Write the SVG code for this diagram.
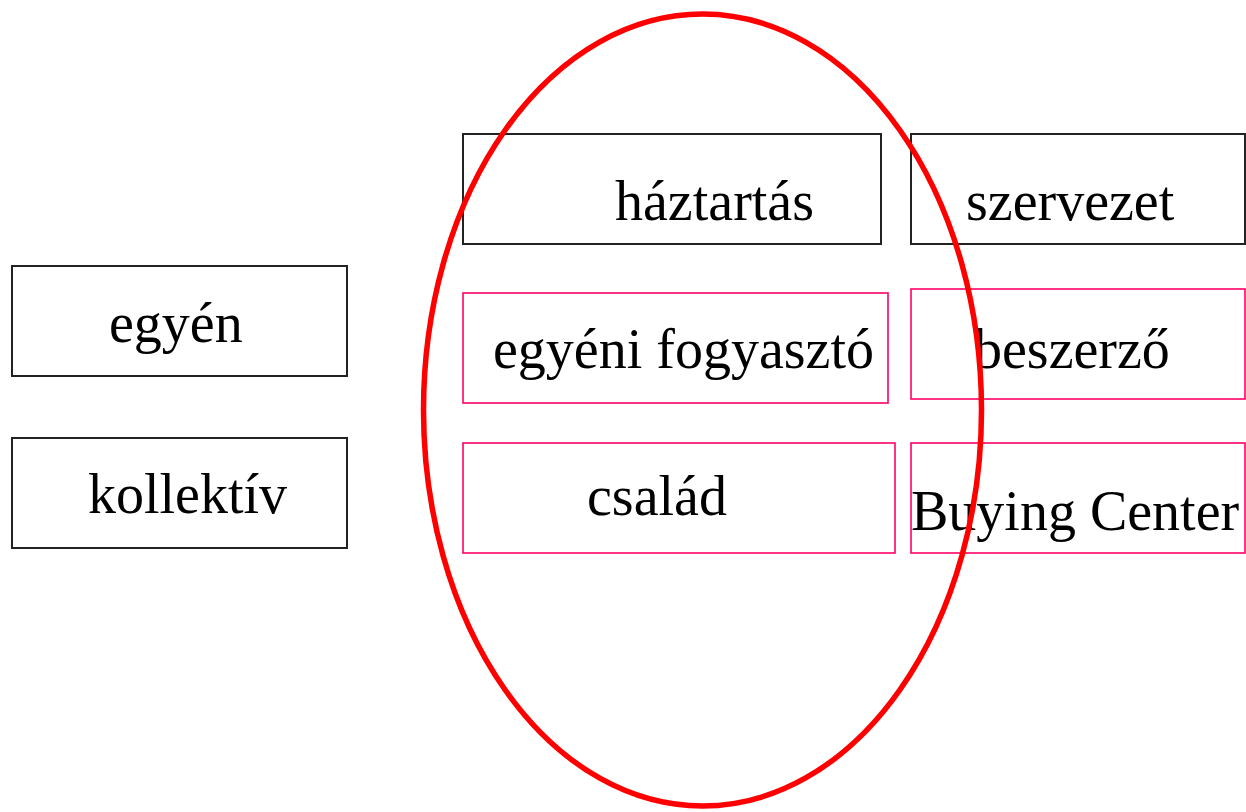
<svg xmlns="http://www.w3.org/2000/svg" width="1246" height="812" viewBox="0 0 1246 812">
  <style>
    .box { fill: #ffffff; stroke: #222222; stroke-width: 2; }
    .pink { fill: #ffffff; stroke: #ff0066; stroke-width: 1.6; }
    .lbl { font-family: "Liberation Serif", "Times New Roman", serif; font-size: 56px; fill: #000000; }
    .ring { fill: none; stroke: #ff0000; stroke-width: 5.5; }
  </style>
  <rect width="1246" height="812" fill="#ffffff"/>

  <g id="egyen">
    <rect class="box" x="12" y="266" width="335" height="110"/>
    <text class="lbl" x="109" y="342">egyén</text>
  </g>
  <g id="kollektiv">
    <rect class="box" x="12" y="438" width="335" height="110"/>
    <text class="lbl" x="88" y="513">kollektív</text>
  </g>

  <g id="haztartas">
    <rect class="box" x="463" y="134" width="418" height="110"/>
    <text class="lbl" x="615" y="220">háztartás</text>
  </g>
  <g id="egyeni-fogyaszto">
    <rect class="pink" x="463" y="293" width="425" height="110"/>
    <text class="lbl" x="493" y="368">egyéni fogyasztó</text>
  </g>
  <g id="csalad">
    <rect class="pink" x="463" y="443" width="432" height="110"/>
    <text class="lbl" x="587" y="515">család</text>
  </g>

  <g id="szervezet">
    <rect class="box" x="911" y="134" width="334" height="110"/>
    <text class="lbl" x="966" y="220">szervezet</text>
  </g>
  <g id="beszerzo">
    <rect class="pink" x="911" y="289" width="334" height="110"/>
    <text class="lbl" x="974" y="368">beszerző</text>
  </g>
  <g id="buying-center">
    <rect class="pink" x="911" y="443" width="334" height="110"/>
    <text class="lbl" x="911" y="530">Buying Center</text>
  </g>

  <g id="connectors">
    <ellipse class="ring" cx="702.5" cy="410" rx="279" ry="396"/>
  </g>
</svg>
